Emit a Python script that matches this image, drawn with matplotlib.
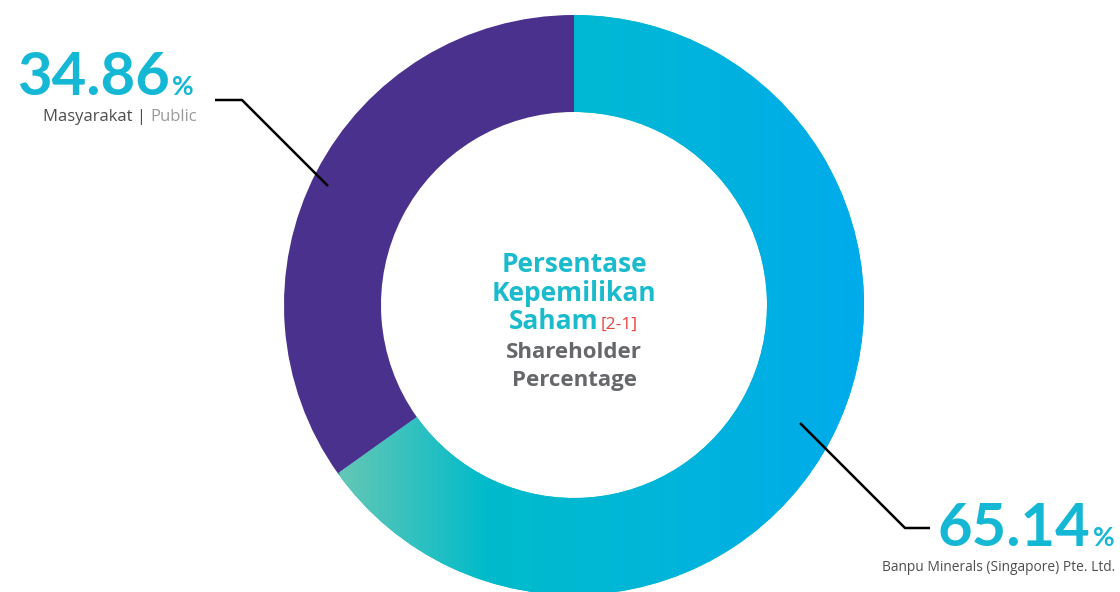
import numpy as np
import matplotlib.pyplot as plt
from matplotlib.colors import LinearSegmentedColormap

# data
holders = ["Banpu Minerals (Singapore) Pte. Ltd.", "Masyarakat | Public"]
shares = [65.14, 34.86]
share_labels = ["65.14", "34.86"]

W, H = 1120, 592
CX, CY = 574, H - 305
R_OUT, RING = 290, 97

TEAL_TXT = "#14B7D4"
PURPLE = "#4B318E"
FONT = "Open Sans"
NUM_FONT = "Lato"

fig = plt.figure(figsize=(W / 100, H / 100), dpi=100)
ax = fig.add_axes([0, 0, 1, 1])
ax.set_xlim(0, W)
ax.set_ylim(0, H)
ax.set_aspect("equal")
ax.axis("off")

wedges, _ = ax.pie(shares, center=(CX, CY), radius=R_OUT, startangle=90,
                   counterclock=False, colors=["#00BACE", PURPLE],
                   wedgeprops=dict(width=RING, linewidth=0))
ax.set_xlim(0, W)
ax.set_ylim(0, H)

# horizontal gradient on the big segment
cmap = LinearSegmentedColormap.from_list(
    "grad", [(0.0, "#64C7B5"), (0.28, "#00BBCB"), (0.45, "#00B9D2"), (1.0, "#00ABEC")])
grad = np.linspace(0, 1, 512).reshape(1, -1)
im = ax.imshow(grad, cmap=cmap, aspect="auto", interpolation="bilinear",
               extent=(340, CX + R_OUT, CY - R_OUT, CY + R_OUT), zorder=2)
im.set_clip_path(wedges[0])

# leader lines
ax.plot([215, 242, 328], [H - 100, H - 100, H - 186], color="black", lw=1.8,
        solid_capstyle="butt", zorder=3)
ax.plot([800, 905, 930], [H - 423, H - 528, H - 528], color="black", lw=1.8,
        solid_capstyle="butt", zorder=3)

# big numbers
ax.text(170, H - 95, share_labels[1], fontsize=43, fontweight="bold", color=TEAL_TXT,
        family=NUM_FONT, ha="right", va="baseline")
ax.text(172, H - 95, "%", fontsize=19, fontweight="bold", color=TEAL_TXT,
        family=NUM_FONT, ha="left", va="baseline")
ax.text(1090, H - 546, share_labels[0], fontsize=43, fontweight="bold", color=TEAL_TXT,
        family=NUM_FONT, ha="right", va="baseline")
ax.text(1093, H - 546, "%", fontsize=19, fontweight="bold", color=TEAL_TXT,
        family=NUM_FONT, ha="left", va="baseline")

# holder names
pub = ax.text(197, H - 121, "Public", fontsize=12, color="#9A9A9A",
              family=FONT, ha="right", va="baseline")
fig.canvas.draw()
bb = pub.get_window_extent().transformed(ax.transData.inverted())
ax.text(bb.x0, H - 121, "Masyarakat | ", fontsize=12, color="#4D4D4D",
        family=FONT, ha="right", va="baseline")
ax.text(1115, H - 571, holders[0], fontsize=9.9, color="#4D4D4D",
        family=FONT, ha="right", va="baseline")

# centre title
ax.text(CX, H - 272, "Persentase", fontsize=19, fontweight="bold", color="#1ABBCC",
        family=FONT, ha="center", va="baseline")
ax.text(CX, H - 301, "Kepemilikan", fontsize=19, fontweight="bold", color="#1ABBCC",
        family=FONT, ha="center", va="baseline")
ax.text(598, H - 329, "Saham", fontsize=19, fontweight="bold", color="#1ABBCC",
        family=FONT, ha="right", va="baseline")
ax.text(601, H - 329, "[2-1]", fontsize=12.5, color="#E8453C",
        family=FONT, ha="left", va="baseline")
ax.text(CX, H - 358, "Shareholder", fontsize=16, fontweight="bold", color="#66676B",
        family=FONT, ha="center", va="baseline")
ax.text(CX, H - 386, "Percentage", fontsize=16, fontweight="bold", color="#66676B",
        family=FONT, ha="center", va="baseline")

fig.savefig("out.png", dpi=100)
